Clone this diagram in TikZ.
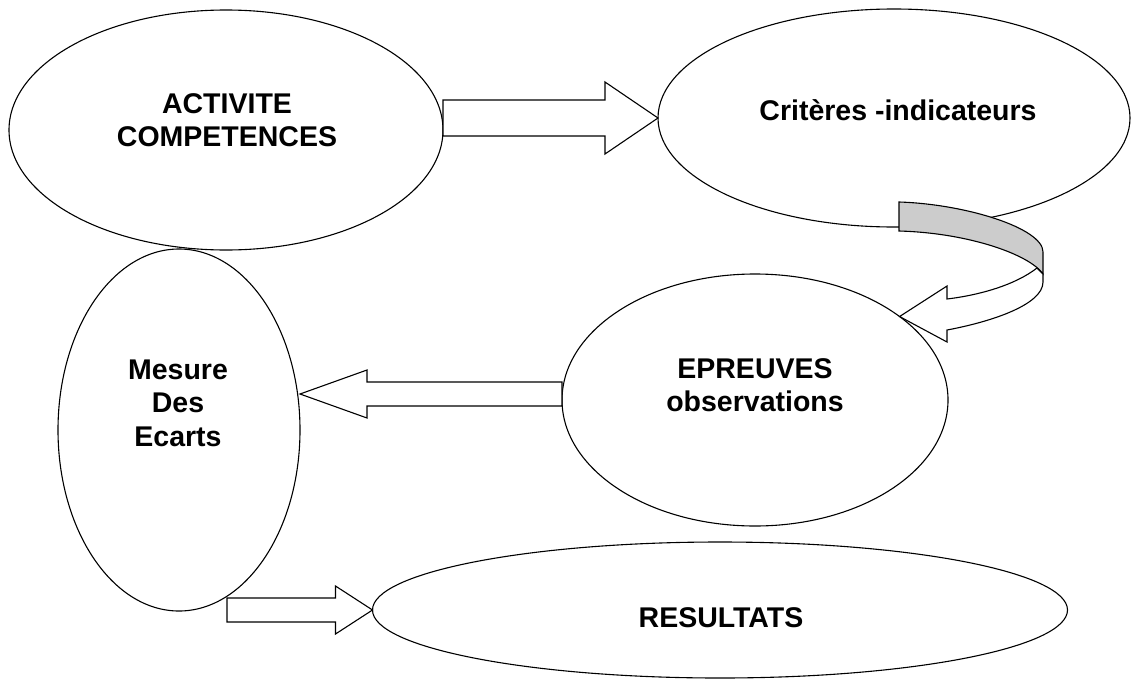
\documentclass[tikz,border=0pt]{standalone}
\usepackage{fontspec}
\setmainfont{Liberation Sans}
\usetikzlibrary{shapes.geometric,calc}
\begin{document}
\begin{tikzpicture}[x=1pt,y=-1pt,
  oval/.style={ellipse,draw,line width=1.1pt,inner sep=0pt,outer sep=0pt},
  lbl/.style={font=\fontsize{28.5}{33.5}\selectfont\bfseries,align=center,inner sep=0pt},
  blk/.style={draw,fill=white,line width=1.1pt,line join=miter},
  ribbon/.style={draw,fill=#1,line width=1.1pt,line join=miter},
]
\useasboundingbox (0,0) rectangle (1131,680);
% ellipses
\node[oval,minimum width=434pt,minimum height=240pt] (e1) at (226,130) {};
\node[oval,minimum width=472pt,minimum height=218pt] (e2) at (894,118) {};
\node[oval,minimum width=242pt,minimum height=362pt] (e3) at (179,430) {};
\node[oval,minimum width=386pt,minimum height=252pt] (e4) at (755,400) {};
\node[oval,minimum width=695pt,minimum height=136pt] (e5) at (720,610) {};
% labels
\node[lbl] (t1) at (227,120) {ACTIVITE\\COMPETENCES};
\node[lbl] (t2) at (898,110) {Critères -indicateurs};
\node[lbl] (t3) at (178,403) {Mesure\\Des\\Ecarts};
\node[lbl] (t4) at (755,385) {EPREUVES\\observations};
\node[lbl] (t5) at (721,618) {RESULTATS};
% arrow 1: e1 -> e2
\coordinate (a1tip) at (e2.west);
\coordinate (a1tail) at (e1.east |- e2.west);
\draw[blk] ($(a1tail)+(0,-18)$) -- ($(a1tip)+(-53,-18)$) -- ($(a1tip)+(-53,-36)$) -- (a1tip)
  -- ($(a1tip)+(-53,36)$) -- ($(a1tip)+(-53,18)$) -- ($(a1tail)+(0,18)$) -- cycle;
% arrow 2: e4 -> e3
\coordinate (ax2) at (0,394);
\coordinate (a2tip) at (e3.east |- ax2);
\coordinate (a2tail) at (e4.west |- ax2);
\draw[blk] ($(a2tail)+(0,-12)$) -- ($(a2tip)+(67,-12)$) -- ($(a2tip)+(67,-24)$) -- (a2tip)
  -- ($(a2tip)+(67,24)$) -- ($(a2tip)+(67,12)$) -- ($(a2tail)+(0,12)$) -- cycle;
% arrow 3: e3 -> e5
\coordinate (a3tip) at (e5.west);
\coordinate (a3start) at ($(e3.south)+(48,0)$);
\coordinate (a3tail) at (a3start |- e5.west);
\draw[blk] ($(a3tail)+(0,-12)$) -- ($(a3tip)+(-37,-12)$) -- ($(a3tip)+(-37,-24)$) -- (a3tip)
  -- ($(a3tip)+(-37,24)$) -- ($(a3tip)+(-37,12)$) -- ($(a3tail)+(0,12)$) -- cycle;
% curved ribbon arrow: e2 -> e4
\coordinate (r0) at (899,202);
\draw[ribbon={black!20}] (r0) .. controls (965,204) and (1043,228) .. (1043,252)
  -- (1043,274) .. controls (1030,255) and (970,233) .. (899,231) -- cycle;
\draw[ribbon=white] (1043,274) -- (1043,282) .. controls (1043,305) and (990,322) .. (947,330)
  -- (947,342) -- (e4.30) -- (947,286) -- (947,299)
  .. controls (980,295) and (1015,285) .. (1037,268) -- cycle;
\end{tikzpicture}
\end{document}
